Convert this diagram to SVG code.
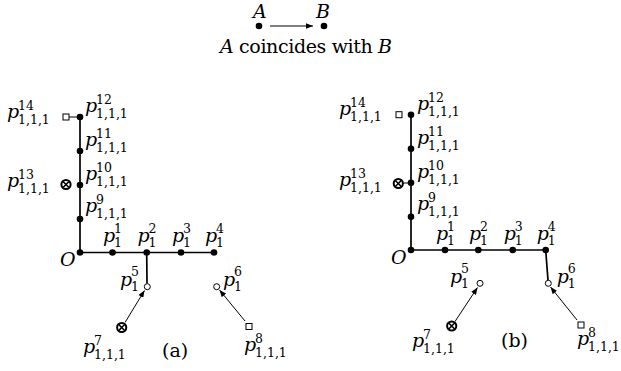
<svg xmlns="http://www.w3.org/2000/svg" width="621" height="371" viewBox="0 0 621 371">
<style>
text{font-family:"DejaVu Serif","Liberation Serif",serif;fill:#000}
.m{font-size:19px}
.i{font-style:italic}
.s{font-size:12.5px}
.dot{fill:#000}
.oc{fill:#fff;stroke:#000;stroke-width:1}
.sq{fill:#fff;stroke:#000;stroke-width:1}
.ox{fill:#fff;stroke:#000;stroke-width:2}
.ox2{stroke:#000;stroke-width:1.6}
.thick{stroke:#000;stroke-width:1.7;fill:none}
.thin{stroke:#000;stroke-width:1;fill:none}
</style>
<defs>
<marker id="ah" viewBox="0 0 10 8" refX="10" refY="4" markerWidth="7" markerHeight="5.6" markerUnits="userSpaceOnUse" orient="auto">
<path d="M0,0 L10,4 L0,8 z" fill="#000"/>
</marker>
<g id="otimes">
<circle cx="0" cy="0" r="4.6" class="ox"/>
<path d="M-3.2,-3.2 L3.2,3.2 M-3.2,3.2 L3.2,-3.2" class="ox2"/>
</g>
</defs>

<g id="legend">
<circle cx="259" cy="26" r="3.3" class="dot"/>
<circle cx="324" cy="26" r="3.3" class="dot"/>
<line x1="270" y1="26" x2="313" y2="26" class="thin" marker-end="url(#ah)"/>
<text class="m i" x="253" y="18">A</text>
<text class="m i" x="316" y="18">B</text>
<text class="m" x="220" y="53" textLength="172" lengthAdjust="spacing"><tspan class="i">A</tspan> coincides with <tspan class="i">B</tspan></text>
</g>

<g id="connectors">
<line x1="80" y1="117" x2="80" y2="252.5" class="thick"/>
<line x1="80" y1="252.5" x2="214" y2="252.5" class="thick"/>
<line x1="146.7" y1="252.5" x2="147" y2="283.5" class="thick"/>
<line x1="69" y1="117" x2="80" y2="117" class="thin"/>
<line x1="125" y1="322.5" x2="144.5" y2="290.5" class="thin" marker-end="url(#ah)"/>
<line x1="245" y1="321" x2="219.5" y2="290" class="thin" marker-end="url(#ah)"/>
<line x1="411" y1="114.7" x2="411" y2="250" class="thick"/>
<line x1="411" y1="250" x2="545.7" y2="250" class="thick"/>
<line x1="545.7" y1="250" x2="548" y2="280.3" class="thick"/>
<line x1="402" y1="183" x2="411" y2="183" class="thin"/>
<line x1="455" y1="321.5" x2="477.5" y2="287.5" class="thin" marker-end="url(#ah)"/>
<line x1="577" y1="320" x2="550.5" y2="287" class="thin" marker-end="url(#ah)"/>
</g>

<g id="a-O"><circle cx="80" cy="252.5" r="3.3" class="dot"/><text class="m i" x="60" y="266">O</text></g>
<g id="a-p12"><circle cx="80" cy="117" r="3.3" class="dot"/><text class="m i" x="85" y="112">p</text><text class="s" x="96" y="104">12</text><text class="s" x="96" y="118">1,1,1</text></g>
<g id="a-p11"><circle cx="80" cy="151" r="3.3" class="dot"/><text class="m i" x="85" y="146">p</text><text class="s" x="96" y="138">11</text><text class="s" x="96" y="152">1,1,1</text></g>
<g id="a-p10"><circle cx="80" cy="185" r="3.3" class="dot"/><text class="m i" x="85" y="180">p</text><text class="s" x="96" y="172">10</text><text class="s" x="96" y="186">1,1,1</text></g>
<g id="a-p9"><circle cx="80" cy="219" r="3.3" class="dot"/><text class="m i" x="85" y="212">p</text><text class="s" x="96" y="204">9</text><text class="s" x="96" y="218">1,1,1</text></g>
<g id="a-p14"><rect x="63" y="114" width="6" height="6" class="sq"/><text class="m i" x="7" y="118">p</text><text class="s" x="18" y="110">14</text><text class="s" x="18" y="124">1,1,1</text></g>
<g id="a-p13"><use href="#otimes" x="66" y="184.5"/><text class="m i" x="7" y="187">p</text><text class="s" x="18" y="179">13</text><text class="s" x="18" y="193">1,1,1</text></g>
<g id="a-p1"><circle cx="112.5" cy="252.5" r="3.3" class="dot"/><text class="m i" x="103" y="242">p</text><text class="s" x="114" y="233">1</text><text class="s" x="114" y="247">1</text></g>
<g id="a-p2"><circle cx="146.7" cy="252.5" r="3.3" class="dot"/><text class="m i" x="137.5" y="242">p</text><text class="s" x="148.5" y="233">2</text><text class="s" x="148.5" y="247">1</text></g>
<g id="a-p3"><circle cx="181" cy="252.5" r="3.3" class="dot"/><text class="m i" x="172" y="242">p</text><text class="s" x="183" y="233">3</text><text class="s" x="183" y="247">1</text></g>
<g id="a-p4"><circle cx="214" cy="252.5" r="3.3" class="dot"/><text class="m i" x="205" y="242">p</text><text class="s" x="216" y="233">4</text><text class="s" x="216" y="247">1</text></g>
<g id="a-p5"><circle cx="147.3" cy="286.7" r="3" class="oc"/><text class="m i" x="120" y="286">p</text><text class="s" x="131" y="276">5</text><text class="s" x="131" y="291">1</text></g>
<g id="a-p6"><circle cx="216.7" cy="286.7" r="3" class="oc"/><text class="m i" x="223" y="286">p</text><text class="s" x="234" y="276">6</text><text class="s" x="234" y="291">1</text></g>
<g id="a-p7"><use href="#otimes" x="121.7" y="327.5"/><text class="m i" x="83" y="353">p</text><text class="s" x="94" y="345">7</text><text class="s" x="94" y="359">1,1,1</text></g>
<g id="a-p8"><rect x="246" y="323.5" width="6" height="6" class="sq"/><text class="m i" x="244" y="351">p</text><text class="s" x="255" y="343">8</text><text class="s" x="255" y="357">1,1,1</text></g>
<text class="m" x="162" y="357">(a)</text>

<g id="b-O"><circle cx="411" cy="250" r="3.3" class="dot"/><text class="m i" x="391" y="264">O</text></g>
<g id="b-p12"><circle cx="411" cy="114.7" r="3.3" class="dot"/><text class="m i" x="417" y="110">p</text><text class="s" x="428" y="102">12</text><text class="s" x="428" y="116">1,1,1</text></g>
<g id="b-p11"><circle cx="411" cy="148.7" r="3.3" class="dot"/><text class="m i" x="417" y="144">p</text><text class="s" x="428" y="136">11</text><text class="s" x="428" y="150">1,1,1</text></g>
<g id="b-p10"><circle cx="411" cy="182.7" r="3.3" class="dot"/><text class="m i" x="417" y="178">p</text><text class="s" x="428" y="170">10</text><text class="s" x="428" y="184">1,1,1</text></g>
<g id="b-p9"><circle cx="411" cy="216.7" r="3.3" class="dot"/><text class="m i" x="417" y="210">p</text><text class="s" x="428" y="202">9</text><text class="s" x="428" y="216">1,1,1</text></g>
<g id="b-p14"><rect x="396" y="111.7" width="6" height="6" class="sq"/><text class="m i" x="339" y="115">p</text><text class="s" x="350" y="107">14</text><text class="s" x="350" y="121">1,1,1</text></g>
<g id="b-p13"><use href="#otimes" x="398.3" y="183.5"/><text class="m i" x="339" y="186">p</text><text class="s" x="350" y="178">13</text><text class="s" x="350" y="192">1,1,1</text></g>
<g id="b-p1"><circle cx="445" cy="250" r="3.3" class="dot"/><text class="m i" x="436" y="240">p</text><text class="s" x="447" y="231">1</text><text class="s" x="447" y="245">1</text></g>
<g id="b-p2"><circle cx="478.3" cy="250" r="3.3" class="dot"/><text class="m i" x="469" y="240">p</text><text class="s" x="480" y="231">2</text><text class="s" x="480" y="245">1</text></g>
<g id="b-p3"><circle cx="512.7" cy="250" r="3.3" class="dot"/><text class="m i" x="503.7" y="240">p</text><text class="s" x="514.7" y="231">3</text><text class="s" x="514.7" y="245">1</text></g>
<g id="b-p4"><circle cx="545.7" cy="250" r="3.3" class="dot"/><text class="m i" x="536.7" y="240">p</text><text class="s" x="547.7" y="231">4</text><text class="s" x="547.7" y="245">1</text></g>
<g id="b-p5"><circle cx="480" cy="283.3" r="3" class="oc"/><text class="m i" x="450" y="283">p</text><text class="s" x="461" y="273">5</text><text class="s" x="461" y="288">1</text></g>
<g id="b-p6"><circle cx="548.3" cy="283.3" r="3" class="oc"/><text class="m i" x="556.7" y="283">p</text><text class="s" x="567.7" y="273">6</text><text class="s" x="567.7" y="288">1</text></g>
<g id="b-p7"><use href="#otimes" x="451.7" y="326"/><text class="m i" x="412" y="347">p</text><text class="s" x="423" y="339">7</text><text class="s" x="423" y="353">1,1,1</text></g>
<g id="b-p8"><rect x="578" y="322" width="6" height="6" class="sq"/><text class="m i" x="577" y="345">p</text><text class="s" x="588" y="337">8</text><text class="s" x="588" y="351">1,1,1</text></g>
<text class="m" x="501" y="347">(b)</text>
</svg>
